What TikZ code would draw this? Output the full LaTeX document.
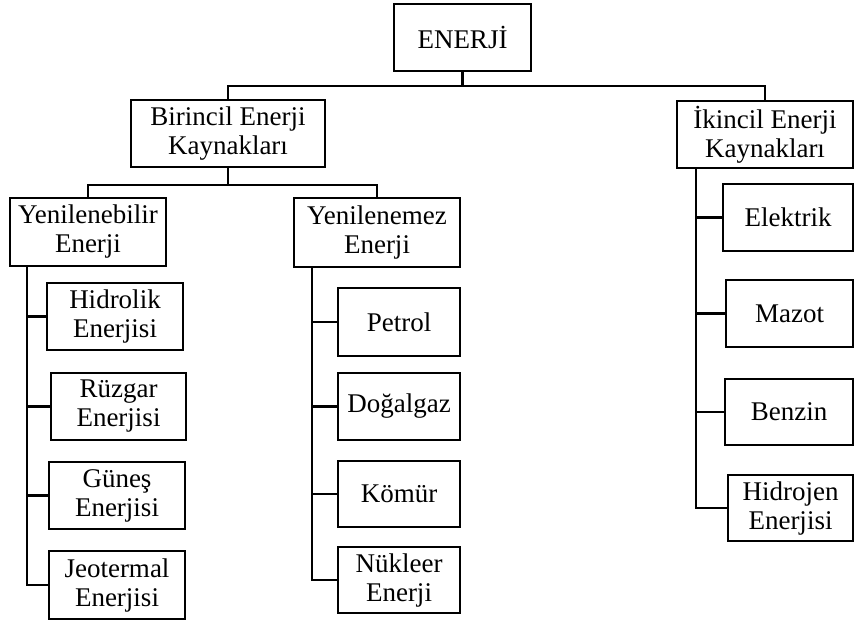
\documentclass[tikz,border=0pt]{standalone}
\usepackage{fontspec}
\setmainfont{Liberation Serif}
\begin{document}
\begin{tikzpicture}[x=1pt,y=-1pt,
  box/.style={draw=black, line width=2.6pt, rectangle, inner sep=0pt, align=center,
    font=\fontsize{27}{29}\selectfont},
  conn/.style={draw=black, line width=2.6pt, line cap=rect}]
\useasboundingbox (0,0) rectangle (856,621);
% boxes: center x, center y, width, height
\node[box, minimum width=137pt, minimum height=67pt] (top) at (462.5,37.5) {ENERJİ};
\node[box, minimum width=194pt, minimum height=67pt] (bir) at (228,133.5) {Birincil Enerji\\Kaynakları};
\node[box, minimum width=176pt, minimum height=67pt] (iki) at (765,134.5) {İkincil Enerji\\Kaynakları};
\node[box, minimum width=156pt, minimum height=68pt] (yb) at (88,232) {Yenilenebilir\\Enerji};
\node[box, minimum width=166pt, minimum height=69pt] (ym) at (377,232.5) {Yenilenemez\\Enerji};
% left column
\node[box, minimum width=136pt, minimum height=67pt] (hid) at (115,316.5) {Hidrolik\\Enerjisi};
\node[box, minimum width=135pt, minimum height=67pt] (ruz) at (118.5,406.5) {Rüzgar\\Enerjisi};
\node[box, minimum width=136pt, minimum height=67pt] (gun) at (117,495.5) {Güneş\\Enerjisi};
\node[box, minimum width=136pt, minimum height=68pt] (jeo) at (117,585) {Jeotermal\\Enerjisi};
% middle column
\node[box, minimum width=122pt, minimum height=68pt] (pet) at (399,322) {Petrol};
\node[box, minimum width=122pt, minimum height=67pt] (dog) at (399,406.5) {Doğalgaz};
\node[box, minimum width=122pt, minimum height=66pt] (kom) at (399,494) {Kömür};
\node[box, minimum width=122pt, minimum height=66pt] (nuk) at (399,580) {Nükleer\\Enerji};
% right column
\node[box, minimum width=130pt, minimum height=67pt] (ele) at (788,217.5) {Elektrik};
\node[box, minimum width=127pt, minimum height=67pt] (maz) at (789.5,313.5) {Mazot};
\node[box, minimum width=128pt, minimum height=66pt] (ben) at (789,412) {Benzin};
\node[box, minimum width=125pt, minimum height=66pt] (hyd) at (790.5,508) {Hidrojen\\Enerjisi};
% helper coordinates
\coordinate (h1) at (0,86);
\coordinate (h2) at (0,185);
\coordinate (tl) at (27,0);
\coordinate (tm) at (312,0);
\coordinate (tr) at (696,0);
% connectors
\draw[conn] (top.south) -- (top.south |- h1) -| (bir.north);
\draw[conn] (top.south) -- (top.south |- h1) -| (iki.north);
\draw[conn] (bir.south) -- (bir.south |- h2) -| (yb.north);
\draw[conn] (bir.south) -- (bir.south |- h2) -| (ym.north);
\draw[conn] (tl |- yb.south) |- (hid.west);
\draw[conn] (tl |- yb.south) |- (ruz.west);
\draw[conn] (tl |- yb.south) |- (gun.west);
\draw[conn] (tl |- yb.south) |- (jeo.west);
\draw[conn] (tm |- ym.south) |- (pet.west);
\draw[conn] (tm |- ym.south) |- (dog.west);
\draw[conn] (tm |- ym.south) |- (kom.west);
\draw[conn] (tm |- ym.south) |- (nuk.west);
\draw[conn] (tr |- iki.south) |- (ele.west);
\draw[conn] (tr |- iki.south) |- (maz.west);
\draw[conn] (tr |- iki.south) |- (ben.west);
\draw[conn] (tr |- iki.south) |- (hyd.west);
\end{tikzpicture}
\end{document}
